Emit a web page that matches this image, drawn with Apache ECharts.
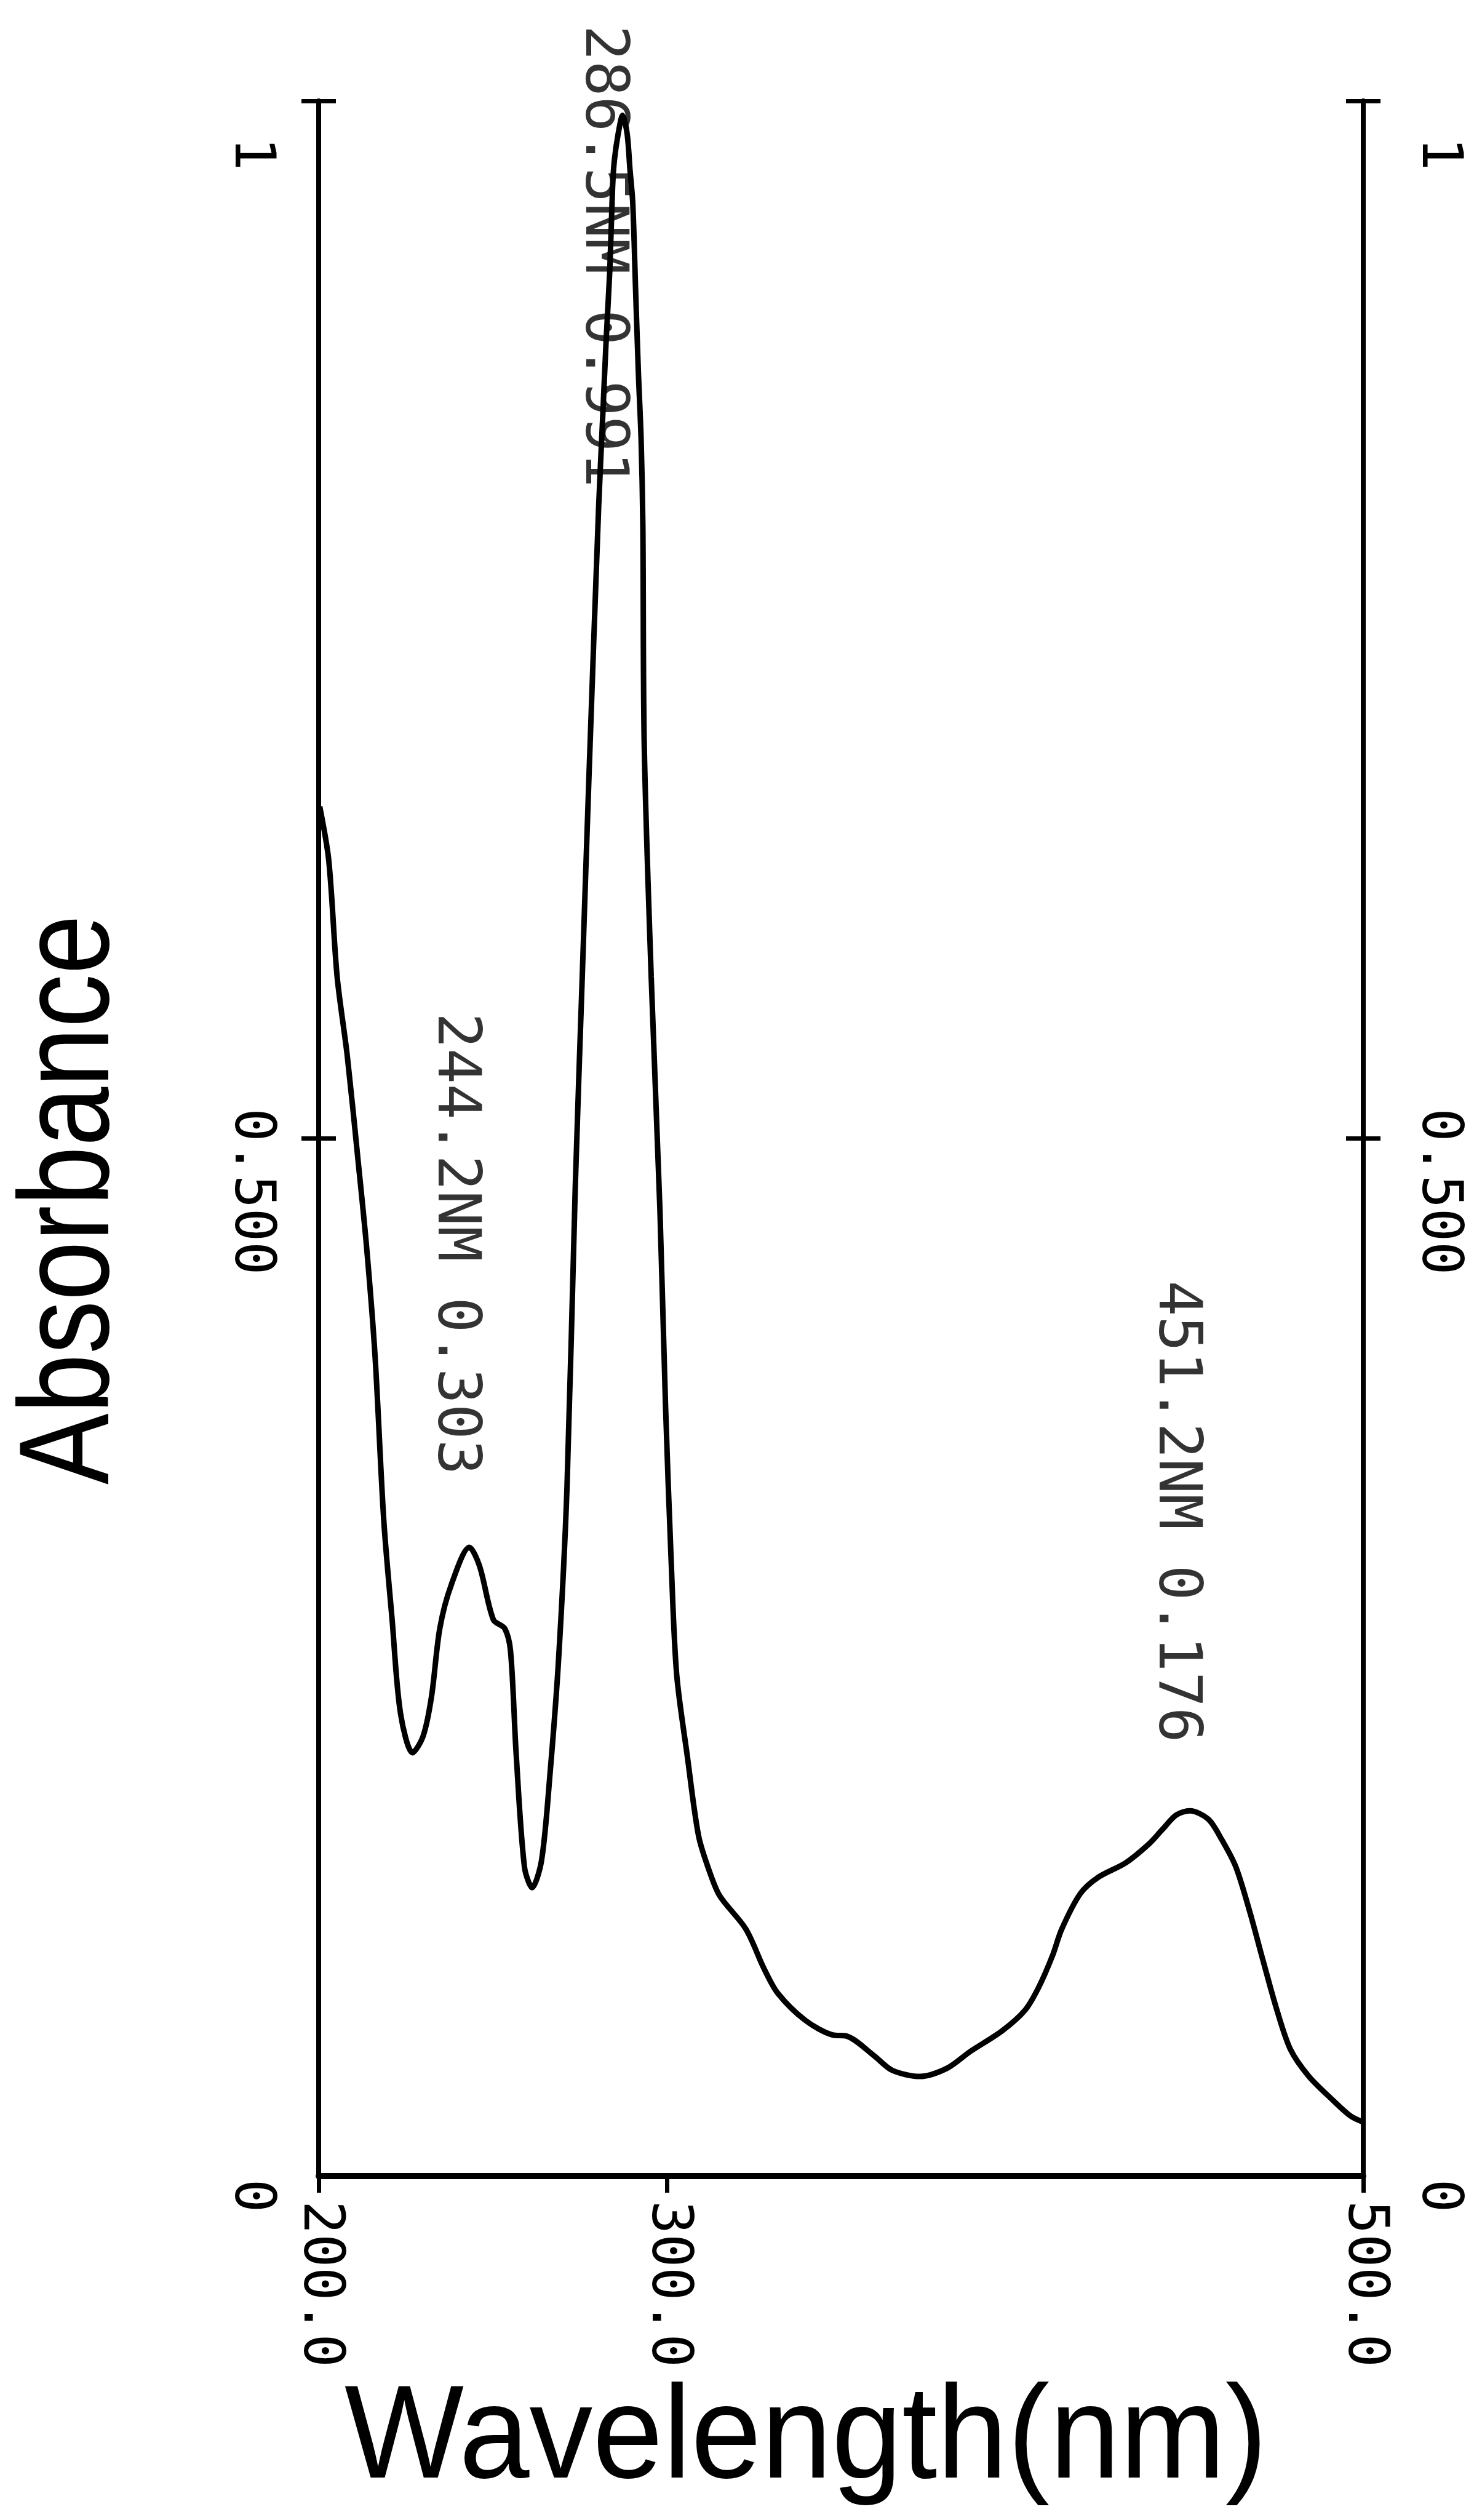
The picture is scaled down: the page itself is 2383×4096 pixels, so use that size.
<!DOCTYPE html>
<html>
<head>
<meta charset="utf-8">
<script src="https://cdn.jsdelivr.net/npm/echarts@6/dist/echarts.min.js"></script>
<style>
html,body{margin:0;padding:0;background:#fff;}
#c{width:2383px;height:4096px;}
</style>
</head>
<body>
<div id="c"></div>
<script>
// ---- data ----
const wavelength = [200.3, 202.9, 205.3, 208.2, 211.4, 213.8, 216.2, 218.7, 221.1, 223.5,
  227.0, 230.0, 232.4, 234.8, 238.1, 243.3, 246.2, 250.2, 253.4, 255.1,
  256.7, 259.1, 261.3, 264.0, 266.4, 268.9, 271.3, 273.7, 275.7, 277.7,
  280.4, 281.5, 282.6, 283.6, 284.4, 284.9, 286.0, 287.3, 288.6, 289.4,
  290.2, 291.0, 291.8, 292.6, 293.1, 293.5, 295.5, 298.0, 299.6, 301.2,
  302.8, 305.9, 309.1, 312.2, 315.2, 322.7, 327.9, 331.9, 339.8, 347.6,
  351.6, 359.5, 364.7, 372.6, 380.5, 387.1, 396.3, 402.9, 406.8, 410.7,
  413.4, 418.7, 423.9, 431.8, 438.4, 442.3, 446.3, 450.2, 455.5, 459.4,
  463.4, 467.3, 471.2, 475.2, 479.1, 484.4, 491.0, 496.3, 500.0];
const absorbance = [0.660, 0.634, 0.578, 0.540, 0.488, 0.447, 0.395, 0.316, 0.268, 0.223,
  0.204, 0.212, 0.231, 0.264, 0.285, 0.303, 0.294, 0.268, 0.264, 0.253,
  0.204, 0.149, 0.139, 0.152, 0.193, 0.249, 0.331, 0.477, 0.578, 0.678,
  0.804, 0.845, 0.886, 0.918, 0.958, 0.971, 0.984, 0.993, 0.984, 0.967,
  0.951, 0.910, 0.870, 0.837, 0.796, 0.690, 0.578, 0.466, 0.372, 0.298,
  0.242, 0.202, 0.164, 0.147, 0.135, 0.119, 0.100, 0.088, 0.075, 0.068,
  0.0675, 0.058, 0.051, 0.048, 0.052, 0.060, 0.070, 0.080, 0.091, 0.106,
  0.119, 0.136, 0.144, 0.151, 0.160, 0.167, 0.174, 0.176, 0.172, 0.162,
  0.149, 0.128, 0.104, 0.080, 0.061, 0.048, 0.037, 0.029, 0.026];

const peakWavelength = [244.2, 286.5, 451.2];
const peakAbsorbance = [0.303, 0.991, 0.176];

const xTickValues = [200, 300, 500];
const xTickLabels = ['200.0', '300.0', '500.0'];
const yTickValues = [0.5, 1];
const yLabelValues = [0, 0.5, 1];
const yLabelTexts = ['0', '0.500', '1'];

const xTitle = 'Wavelength(nm)';
const yTitle = 'Absorbance';

// ---- styling ----
const MONO = '"DejaVu Sans Mono", "Liberation Mono", monospace';
const SANS = '"Liberation Sans", Arial, sans-serif';
const LABEL_SIZE = 90;
const yLabelPad = [64, 173, 172];      // leading space per y label (rotated)
const peakLabelAlign = ['right', 'left', 'right'];
const peakLabelDist = [117, 153, 110];

const lineData = wavelength.map((w, i) => [w, absorbance[i]]);
const peakData = peakWavelength.map((w, i) => ({
  value: [w, peakAbsorbance[i]],
  label: { align: peakLabelAlign[i], distance: peakLabelDist[i] }
}));

const rich = {};
yLabelValues.forEach((v, i) => {
  rich['k' + i] = {
    fontFamily: MONO, fontSize: LABEL_SIZE, color: '#000',
    padding: [0, 0, 0, yLabelPad[i]]
  };
});
function yLabelFormatter(v) {
  let idx = -1;
  yLabelValues.forEach((t, i) => { if (Math.abs(t - v) < 1e-9) idx = i; });
  if (idx < 0) return '';
  return '{k' + idx + '|' + yLabelTexts[idx] + '}';
}

function yAxisMain(pos, margin) {
  return {
    type: 'value', position: pos, min: 0, max: 1,
    axisLine: { show: true, lineStyle: { color: '#000', width: 8 } },
    axisTick: { show: true, customValues: yTickValues, length: 28, lineStyle: { color: '#000', width: 7 } },
    axisLabel: {
      show: true, customValues: yLabelValues, formatter: yLabelFormatter,
      rotate: -90, align: 'center', verticalAlign: 'middle', margin: margin,
      fontFamily: MONO, fontSize: LABEL_SIZE, color: '#000', rich: rich
    },
    splitLine: { show: false }
  };
}
function yAxisInner(pos) {
  return {
    type: 'value', position: pos, min: 0, max: 1, offset: 0,
    axisLine: { show: false },
    axisTick: { show: true, inside: true, customValues: yTickValues, length: 28, lineStyle: { color: '#000', width: 7 } },
    axisLabel: { show: false },
    splitLine: { show: false }
  };
}

const chart = echarts.init(document.getElementById('c'), null, { renderer: 'canvas' });
chart.setOption({
  backgroundColor: '#fff',
  animation: false,
  grid: { left: 518, top: 164, width: 1698, height: 3373, containLabel: false, outerBoundsMode: 'none' },
  xAxis: {
    type: 'value', min: 200, max: 500,
    axisLine: { show: true, lineStyle: { color: '#000', width: 10 } },
    axisTick: { show: true, customValues: xTickValues, length: 27, lineStyle: { color: '#000', width: 7 } },
    axisLabel: {
      show: true, customValues: xTickValues,
      formatter: v => { const i = xTickValues.indexOf(v); return i < 0 ? '' : xTickLabels[i]; },
      rotate: -90, align: 'left', verticalAlign: 'middle', margin: 40,
      fontFamily: MONO, fontSize: LABEL_SIZE, color: '#000'
    },
    splitLine: { show: false }
  },
  yAxis: [yAxisMain('left', 112), yAxisInner('left'), yAxisMain('right', 120), yAxisInner('right')],
  series: [
    {
      type: 'line', xAxisIndex: 0, yAxisIndex: 0, data: lineData,
      symbol: 'none', showSymbol: false, smooth: 0.3,
      lineStyle: { color: '#000', width: 9 }, silent: true
    },
    {
      type: 'scatter', xAxisIndex: 0, yAxisIndex: 0, data: peakData,
      symbolSize: 1, itemStyle: { color: 'rgba(0,0,0,0)' }, silent: true,
      label: {
        show: true, position: 'top', rotate: -90, verticalAlign: 'middle',
        offset: [0, 30],
        fontFamily: MONO, fontSize: 96, color: '#000',
        formatter: p => p.value[0].toFixed(1) + 'NM ' + p.value[1].toFixed(3)
      }
    }
  ],
  graphic: [
    {
      type: 'text', x: 119, y: 1950, rotation: Math.PI / 2, scaleX: 0.834, scaleY: 1,
      style: { text: yTitle, font: '208px ' + SANS, fill: '#000', align: 'center', verticalAlign: 'middle', textAlign: 'center', textVerticalAlign: 'middle' }
    },
    {
      type: 'text', x: 1310, y: 3968, scaleX: 0.956, scaleY: 1,
      style: { text: xTitle, font: '215px ' + SANS, fill: '#000', align: 'center', verticalAlign: 'middle', textAlign: 'center', textVerticalAlign: 'middle' }
    }
  ]
});
</script>
</body>
</html>
